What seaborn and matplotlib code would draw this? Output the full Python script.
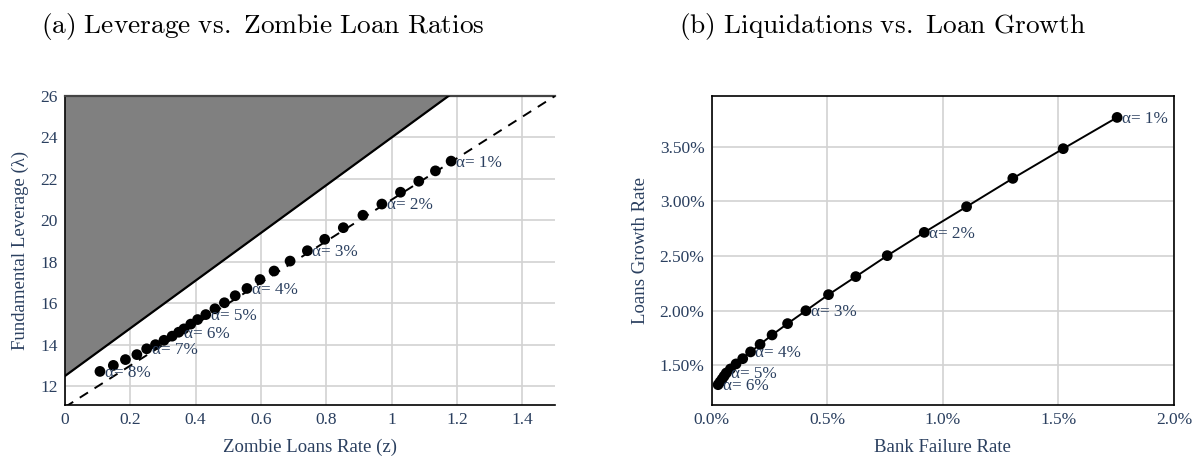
import numpy as np
import pandas as pd
import matplotlib
matplotlib.use("Agg")
import matplotlib.pyplot as plt
import seaborn as sns

# ---------------- data ----------------
alpha_pct = [1.0, 1.25, 1.5, 1.75, 2.0, 2.25, 2.5, 2.75, 3.0, 3.25, 3.5, 3.75,
             4.0, 4.25, 4.5, 4.75, 5.0, 5.25, 5.5, 5.75, 6.0, 6.25, 6.5, 6.75,
             7.0, 7.25, 7.5, 7.75, 8.0]
zombie_rate = [1.182, 1.134, 1.083, 1.027, 0.970, 0.912, 0.852, 0.795, 0.742,
               0.689, 0.640, 0.597, 0.557, 0.521, 0.488, 0.459, 0.431, 0.406,
               0.385, 0.364, 0.348, 0.328, 0.303, 0.277, 0.250, 0.220, 0.185,
               0.148, 0.107]
leverage = [22.86, 22.39, 21.89, 21.36, 20.79, 20.25, 19.65, 19.09, 18.54,
            18.04, 17.56, 17.15, 16.72, 16.37, 16.03, 15.74, 15.46, 15.22,
            15.00, 14.77, 14.61, 14.42, 14.22, 14.01, 13.81, 13.53, 13.29,
            13.01, 12.72]
labeled_left = [1, 2, 3, 4, 5, 6, 7, 8]

boundary_z = [0.0, 1.5]
boundary_lambda = [12.5, 29.75]
ref_z = [0.0, 1.5]
ref_lambda = [11.0, 26.0]

alpha_pct_b = alpha_pct[:21]
failure_rate = [1.754, 1.521, 1.303, 1.103, 0.920, 0.760, 0.624, 0.506, 0.408,
                0.329, 0.262, 0.210, 0.169, 0.135, 0.106, 0.082, 0.064, 0.0545,
                0.046, 0.037, 0.0285]
loan_growth = [3.769, 3.483, 3.211, 2.952, 2.717, 2.504, 2.312, 2.147, 2.000,
               1.882, 1.778, 1.692, 1.623, 1.561, 1.513, 1.467, 1.430, 1.401,
               1.374, 1.348, 1.323]
labeled_right = [1, 2, 3, 4, 5, 6]

left_xticks = [0, 0.2, 0.4, 0.6, 0.8, 1.0, 1.2, 1.4]
left_xticklabels = ["0", "0.2", "0.4", "0.6", "0.8", "1", "1.2", "1.4"]
left_yticks = [12, 14, 16, 18, 20, 22, 24, 26]
right_xticks = [0.0, 0.5, 1.0, 1.5, 2.0]
right_xticklabels = ["0.0%", "0.5%", "1.0%", "1.5%", "2.0%"]
right_yticks = [1.5, 2.0, 2.5, 3.0, 3.5]
right_yticklabels = ["1.50%", "2.00%", "2.50%", "3.00%", "3.50%"]

df_a = pd.DataFrame({"z": zombie_rate, "lam": leverage, "alpha": alpha_pct})
df_b = pd.DataFrame({"f": failure_rate, "g": loan_growth, "alpha": alpha_pct_b})

# ---------------- style ----------------
sns.set_theme(style="white")
plt.rcParams["font.family"] = ["Liberation Serif", "DejaVu Serif"]
plt.rcParams["mathtext.fontset"] = "cm"
TXT = "#2a3f5f"
GRID = "#d2d2d2"

W, H = 1193, 459
fig = plt.figure(figsize=(W / 100, H / 100), dpi=100)

def frac(x0, y0, x1, y1):
    return [x0 / W, 1 - y1 / H, (x1 - x0) / W, (y1 - y0) / H]

ax1 = fig.add_axes(frac(65, 96, 555, 405))
ax2 = fig.add_axes(frac(711.5, 96, 1174, 405))

# ---------------- panel (a) ----------------
ax1.fill_between(boundary_z, boundary_lambda, 26, color="#808080", zorder=2, linewidth=0)
ax1.plot(boundary_z, boundary_lambda, color="black", lw=1.6, zorder=3)
ax1.plot(ref_z, ref_lambda, color="black", lw=1.4, ls=(0, (5, 4)), zorder=3)
sns.scatterplot(data=df_a, x="z", y="lam", ax=ax1, color="black", s=60,
                edgecolor="none", zorder=4, legend=False)
for a, x, y in zip(alpha_pct, zombie_rate, leverage):
    if a in labeled_left:
        ax1.annotate(f"α= {int(a)}%", (x, y), xytext=(3.5, -1), textcoords="offset points",
                     ha="left", va="center", color=TXT, fontsize=12.3, zorder=5)
ax1.set_xlim(0, 1.5)
ax1.set_ylim(11.1, 26)
ax1.set_xticks(left_xticks)
ax1.set_xticklabels(left_xticklabels)
ax1.set_yticks(left_yticks)
ax1.grid(True, color=GRID, lw=1.2, zorder=0)
ax1.set_axisbelow(True)
ax1.set_xlabel("Zombie Loans Rate (z)", color=TXT, fontsize=13.5, labelpad=8)
ax1.set_ylabel("Fundamental Leverage (λ)", color=TXT, fontsize=13.5, labelpad=8)
for s in ["left", "bottom"]:
    ax1.spines[s].set_color("black")
    ax1.spines[s].set_linewidth(1.2)
ax1.spines["top"].set_color("#444444")
ax1.spines["top"].set_linewidth(1.6)
ax1.spines["right"].set_visible(False)

# ---------------- panel (b) ----------------
sns.lineplot(data=df_b, x="f", y="g", ax=ax2, color="black", lw=1.4, sort=False,
             zorder=3, legend=False)
sns.scatterplot(data=df_b, x="f", y="g", ax=ax2, color="black", s=60,
                edgecolor="none", zorder=4, legend=False)
for a, x, y in zip(alpha_pct_b, failure_rate, loan_growth):
    if a in labeled_right:
        ax2.annotate(f"α= {int(a)}%", (x, y), xytext=(3.5, -1), textcoords="offset points",
                     ha="left", va="center", color=TXT, fontsize=12.3, zorder=5)
ax2.set_xlim(0, 2.0)
ax2.set_ylim(1.137, 3.965)
ax2.set_xticks(right_xticks)
ax2.set_xticklabels(right_xticklabels)
ax2.set_yticks(right_yticks)
ax2.set_yticklabels(right_yticklabels)
ax2.grid(True, color=GRID, lw=1.2, zorder=0)
ax2.set_axisbelow(True)
ax2.set_xlabel("Bank Failure Rate", color=TXT, fontsize=13.5, labelpad=8)
ax2.set_ylabel("Loans Growth Rate", color=TXT, fontsize=13.5, labelpad=8)
for s in ax2.spines.values():
    s.set_color("black")
    s.set_linewidth(1.2)

for ax in (ax1, ax2):
    ax.tick_params(axis="both", colors=TXT, labelsize=12.5, length=0, pad=5)

fig.text(263 / W, 1 - 27 / H, r"$\mathrm{(a)\ Leverage\ vs.\ Zombie\ Loan\ Ratios}$",
         ha="center", va="center", fontsize=19.7, color="black")
fig.text(883 / W, 1 - 27 / H, r"$\mathrm{(b)\ Liquidations\ vs.\ Loan\ Growth}$",
         ha="center", va="center", fontsize=19.7, color="black")

fig.savefig("out.png", dpi=100)
